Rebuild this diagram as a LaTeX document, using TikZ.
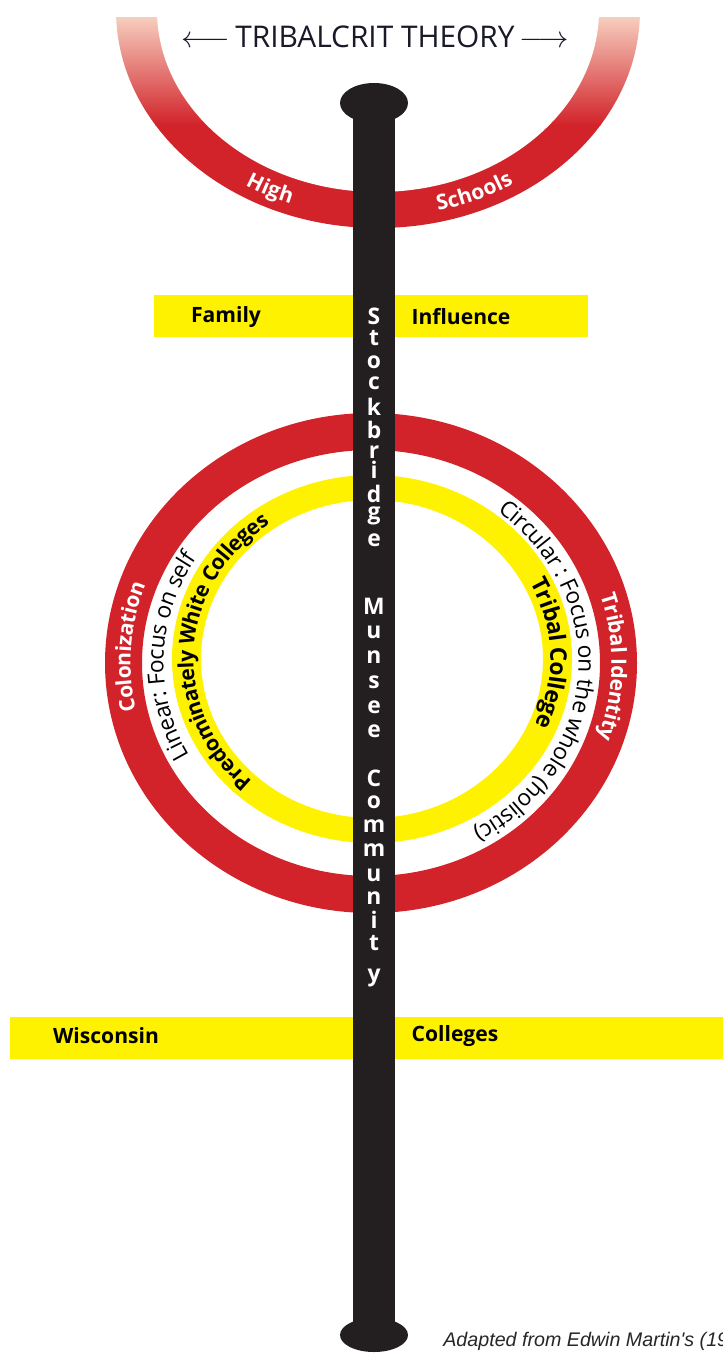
\documentclass[tikz,border=0pt]{standalone}
\usepackage{fontspec}
\setmainfont{Open Sans}
\newfontfamily\creditfont{Liberation Sans}
\usepackage{tikz}
\usetikzlibrary{decorations.text}

\definecolor{ringred}{RGB}{210,35,42}
\definecolor{fadetop}{RGB}{246,206,190}
\definecolor{fademid}{RGB}{226,108,84}
\definecolor{bandyellow}{RGB}{255,242,0}
\definecolor{polegray}{RGB}{35,31,32}
\definecolor{titleink}{RGB}{25,25,40}

\newcommand\ringbold{\fontsize{12}{14}\selectfont\bfseries}
\newcommand\ringthin{\fontsize{13}{15}\selectfont}

\begin{document}
\begin{tikzpicture}[
  x=0.02cm, y=0.02cm,
  % yellow strip behind two words
  band/.style={fill=bandyellow, draw=none},
  bandlabel/.style={font=\fontsize{12}{14}\selectfont\bfseries, text=black, inner sep=0pt},
  % letters stacked down the pole
  poleletter/.style={font=\fontsize{13}{15}\selectfont\bfseries, text=white, inner sep=0pt},
  % words bent along a ring
  ringtext/.style 2 args={decorate, decoration={text along path, text align=center,
                          raise=-4pt, text={|#1|#2}}}
]
\useasboundingbox (0,0) rectangle (723,-1353);
\clip (0,0) rectangle (723,-1353);

\coordinate (topc)  at (378,-10);
\coordinate (ringc) at (371,-663);
\coordinate (yelc)  at (372,-659);

% ── top arc (fades out at the top) ─────────────────────────────────────────
\begin{scope}
  \clip (0,-17) rectangle (723,-300);
  \clip (topc) ellipse[x radius=262, y radius=218];
  \shade[top color=fadetop, middle color=fademid, bottom color=ringred]
        (0,-17) rectangle (723,-125);
  \fill[ringred] (0,-125) rectangle (723,-300);
  \fill[white] (topc) ellipse[x radius=221, y radius=182];
\end{scope}

\node[font=\fontsize{17}{20}\selectfont, text=titleink] (title) at (375,-37)
     {$\longleftarrow$\,TRIBALCRIT THEORY\,$\longrightarrow$};

\path[ringtext={\ringbold\color{white}}{High}]
     (topc) ++(222:241.5 and 200) arc[start angle=222, end angle=264, x radius=241.5, y radius=200];
\path[ringtext={\ringbold\color{white}}{Schools}]
     (topc) ++(274:241.5 and 200) arc[start angle=274, end angle=314, x radius=241.5, y radius=200];

% ── yellow bands ───────────────────────────────────────────────────────────
\fill[band] (154,-295) rectangle (588,-337);
\node[bandlabel] (family)    at (226,-317) {Family};
\node[bandlabel] (influence) at (461,-317) {Influence};

\fill[band] (10,-1017) rectangle (723,-1059);
\node[bandlabel] (wisconsin) at (106,-1036) {Wisconsin};
\node[bandlabel] (colleges)  at (455,-1036) {Colleges};

% ── middle rings ───────────────────────────────────────────────────────────
\fill[ringred, even odd rule] (ringc) ellipse[x radius=266, y radius=250]
                              (ringc) ellipse[x radius=229, y radius=213];
\fill[bandyellow, even odd rule] (yelc) ellipse[x radius=200, y radius=184]
                                 (yelc) ellipse[x radius=171, y radius=159];

% left half
\path[ringtext={\fontsize{12}{14}\selectfont\bfseries\color{white}}{Colonization}]
     (ringc) ++(216:247.5 and 231.5) arc[start angle=216, end angle=136, x radius=247.5, y radius=231.5];
\path[ringtext={\ringthin\color{black}}{Linear: Focus on self}]
     (ringc) ++(232:214.5 and 198.5) arc[start angle=232, end angle=124, x radius=214.5, y radius=198.5];
\path[ringtext={\ringbold\color{black}}{Predominately White Colleges}]
     (yelc) ++(245:185.5 and 171.5) arc[start angle=245, end angle=108, x radius=185.5, y radius=171.5];

% right half
\path[ringtext={\ringbold\color{white}}{Tribal Identity}]
     (ringc) ++(35:247.5 and 231.5) arc[start angle=35, end angle=-37, x radius=247.5, y radius=231.5];
\path[ringtext={\ringthin\color{black}}{Circular : Focus on the whole (holistic)}]
     (ringc) ++(80:214.5 and 198.5) arc[start angle=80, end angle=-88, x radius=214.5, y radius=198.5];
\path[ringtext={\fontsize{13}{15}\selectfont\bfseries\color{black}}{Tribal College}]
     (yelc) ++(42:185.5 and 171.5) arc[start angle=42, end angle=-38, x radius=185.5, y radius=171.5];

% ── the pole ───────────────────────────────────────────────────────────────
\fill[polegray] (353,-103) rectangle (395,-1335);
\fill[polegray] (374,-103)  ellipse[x radius=34, y radius=20];
\fill[polegray] (374,-1335) ellipse[x radius=34, y radius=17];

\foreach \ch/\yy [count=\n] in {S/316,t/338,o/362,c/383,k/407,b/430,r/452,i/470,
    d/494,g/516,e/540,M/606,u/632,n/657,s/682,e/707,e/731,
    C/778,o/802,m/826,m/850,u/875,n/898,i/920,t/943,y/978}
  \node[poleletter] (letter\n) at (374,-\yy) {\ch};

% ── credit line (runs off the page) ────────────────────────────────────────
\node[anchor=base west, inner sep=0pt, text=black!85,
      font=\creditfont\itshape\fontsize{11.2}{13}\selectfont] (credit) at (443,-1346)
     {Adapted from Edwin Martin's (19};

\end{tikzpicture}
\end{document}
